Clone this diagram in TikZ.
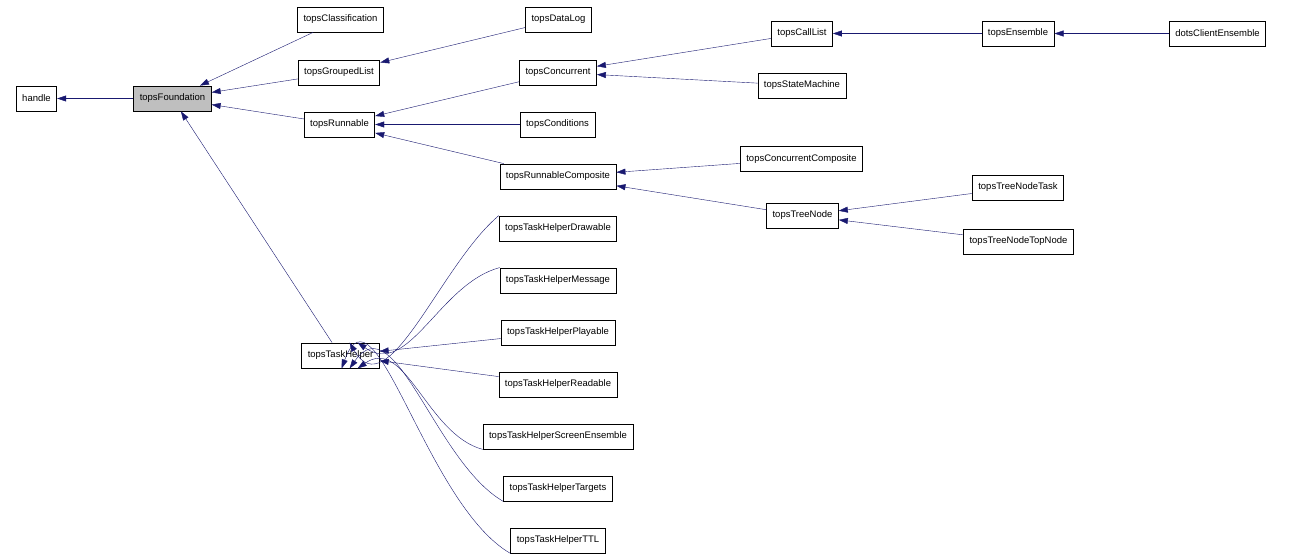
\documentclass[tikz,border=0pt]{standalone}
\usepackage{fontspec}
\setmainfont{Liberation Sans}
\usetikzlibrary{arrows.meta}
\definecolor{edgeblue}{RGB}{25,25,112}
\tikzset{
  cls/.style={draw,thick,fill=white,minimum height=25pt,inner xsep=6pt,font=\fontsize{9.5}{11}\selectfont},
  edge/.style={edgeblue,{Triangle[length=9pt,width=6pt]}-}
}
\begin{document}
\begin{tikzpicture}[x=1pt,y=-1pt]
\useasboundingbox (0,0) rectangle (1293,559);
% classes
\node[cls] (handle) at (36.5,98.5) {handle};
\node[cls,fill=lightgray] (found) at (172.5,98.5) {topsFoundation};
\node[cls] (classif) at (340.5,19.5) {topsClassification};
\node[cls] (grouped) at (339,72.5) {topsGroupedList};
\node[cls] (runnable) at (339.5,124.5) {topsRunnable};
\node[cls] (datalog) at (558.5,19.5) {topsDataLog};
\node[cls] (concur) at (558,72.5) {topsConcurrent};
\node[cls] (cond) at (557.5,124.5) {topsConditions};
\node[cls] (runcomp) at (558,176.5) {topsRunnableComposite};
\node[cls] (calllist) at (802,33.5) {topsCallList};
\node[cls] (statem) at (802,85.5) {topsStateMachine};
\node[cls] (concomp) at (801.5,159) {topsConcurrentComposite};
\node[cls] (tree) at (802.5,215.5) {topsTreeNode};
\node[cls] (ensemble) at (1018,33.5) {topsEnsemble};
\node[cls] (dots) at (1217.5,33.5) {dotsClientEnsemble};
\node[cls] (treetask) at (1018,187.5) {topsTreeNodeTask};
\node[cls] (treetop) at (1018.5,241.5) {topsTreeNodeTopNode};
\node[cls] (helper) at (340.5,355.5) {topsTaskHelper};
\node[cls] (hdraw) at (558,228.5) {topsTaskHelperDrawable};
\node[cls] (hmsg) at (558,280.5) {topsTaskHelperMessage};
\node[cls] (hplay) at (558,332.5) {topsTaskHelperPlayable};
\node[cls] (hread) at (558,384.5) {topsTaskHelperReadable};
\node[cls] (hscreen) at (558,436.5) {topsTaskHelperScreenEnsemble};
\node[cls] (htarget) at (558,488.5) {topsTaskHelperTargets};
\node[cls] (httl) at (558,540.5) {topsTaskHelperTTL};
% inheritance
\draw[edge] (handle) -- (found);
\draw[edge] (found) -- (classif);
\draw[edge] (found) -- (grouped);
\draw[edge] (found) -- (runnable);
\draw[edge] (found) -- (helper);
\draw[edge] (grouped) -- (datalog);
\draw[edge] (runnable) -- (concur);
\draw[edge] (runnable) -- (cond);
\draw[edge] (runnable) -- (runcomp);
\draw[edge] (concur) -- (calllist);
\draw[edge] (concur) -- (statem);
\draw[edge] (calllist) -- (ensemble);
\draw[edge] (ensemble) -- (dots);
\draw[edge] (runcomp) -- (concomp);
\draw[edge] (runcomp) -- (tree);
\draw[edge] (tree) -- (treetask);
\draw[edge] (tree) -- (treetop);
\draw[edge] (helper.north east) ++(-30,0) to[out=-60,in=-140] (hdraw.north west);
\draw[edge] (helper.north east) ++(-22,0) to[out=-35,in=-165] (hmsg.north west);
\draw[edge] (helper) -- (hplay);
\draw[edge] (helper) -- (hread);
\draw[edge] (helper.south east) ++(-22,0) to[out=35,in=165] (hscreen.south west);
\draw[edge] (helper.south east) ++(-30,0) to[out=55,in=150] (htarget.south west);
\draw[edge] (helper.south east) ++(-38,0) to[out=70,in=150] (httl.south west);
\end{tikzpicture}
\end{document}
